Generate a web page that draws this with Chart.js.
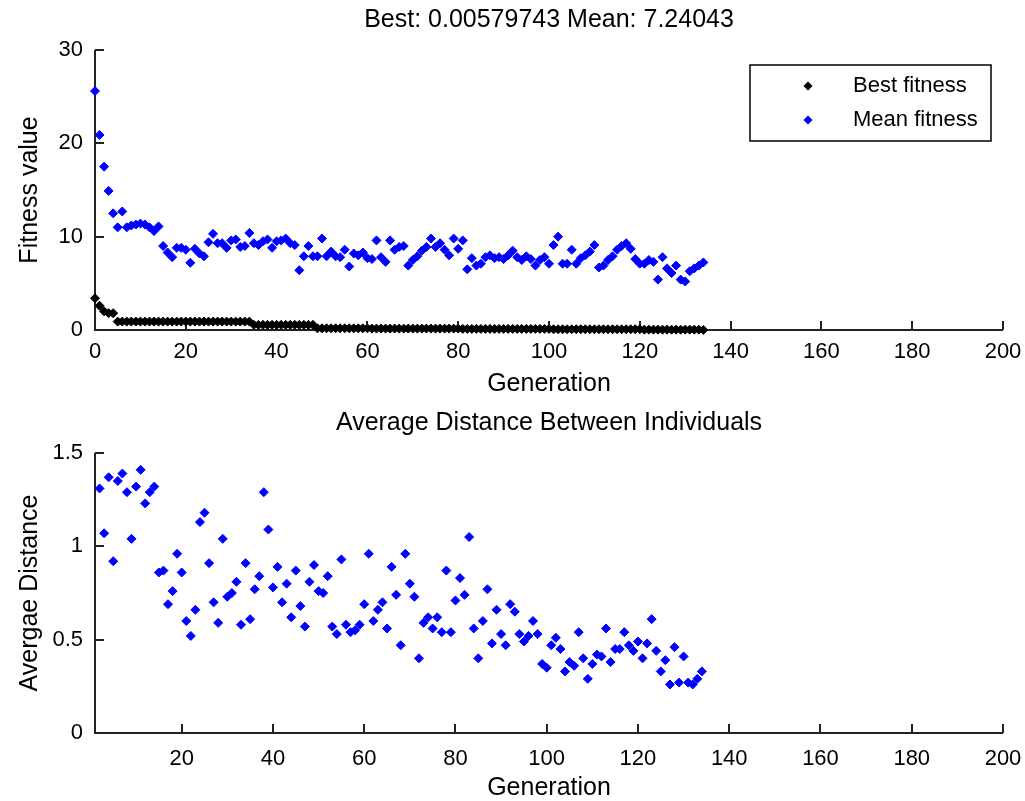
<!DOCTYPE html>
<html>
<head>
<meta charset="utf-8">
<script src="https://cdn.jsdelivr.net/npm/chart.js@4.4.1/dist/chart.umd.min.js"></script>
<style>
body { margin: 0; background: #fff; }
#wrap { position: relative; width: 1025px; height: 801px; }
canvas { position: absolute; left: 0; }
#c1 { top: 0; }
#c2 { top: 400px; }
</style>
</head>
<body>
<div id="wrap">
<canvas id="c1" width="1025" height="400"></canvas>
<canvas id="c2" width="1025" height="401"></canvas>
</div>
<script>
// fitness per generation, generation 0..134
const bestFitness = [
  3.4, 2.6, 2.0, 1.8, 1.8, 0.9, 0.9, 0.9, 0.9, 0.9,
  0.9, 0.9, 0.9, 0.9, 0.9, 0.9, 0.9, 0.9, 0.9, 0.9,
  0.9, 0.9, 0.9, 0.9, 0.9, 0.9, 0.9, 0.9, 0.9, 0.9,
  0.9, 0.9, 0.9, 0.9, 0.9, 0.55, 0.55, 0.55, 0.55, 0.55,
  0.55, 0.55, 0.55, 0.55, 0.55, 0.55, 0.55, 0.55, 0.55, 0.18,
  0.18, 0.18, 0.18, 0.18, 0.18, 0.18, 0.18, 0.18, 0.18, 0.18,
  0.18, 0.15, 0.15, 0.15, 0.15, 0.15, 0.15, 0.15, 0.15, 0.15,
  0.15, 0.15, 0.15, 0.15, 0.15, 0.15, 0.15, 0.15, 0.15, 0.15,
  0.15, 0.12, 0.12, 0.12, 0.12, 0.12, 0.12, 0.12, 0.12, 0.12,
  0.12, 0.12, 0.12, 0.12, 0.12, 0.12, 0.12, 0.12, 0.12, 0.12,
  0.12, 0.08, 0.08, 0.08, 0.08, 0.08, 0.08, 0.08, 0.08, 0.08,
  0.08, 0.08, 0.08, 0.08, 0.08, 0.08, 0.08, 0.08, 0.08, 0.08,
  0.08, 0.04, 0.04, 0.04, 0.04, 0.04, 0.04, 0.04, 0.04, 0.04,
  0.04, 0.04, 0.04, 0.04, 0.00579743
]
const meanFitness = [
  25.6, 20.9, 17.5, 14.9, 12.5, 11.0, 12.7, 11.0, 11.2, 11.3,
  11.4, 11.3, 11.0, 10.6, 11.1, 9.0, 8.3, 7.8, 8.8, 8.8,
  8.6, 7.2, 8.7, 8.2, 7.9, 9.4, 10.3, 9.3, 9.3, 8.8,
  9.6, 9.7, 8.9, 9.0, 10.4, 9.3, 9.1, 9.5, 9.7, 8.8,
  9.5, 9.6, 9.8, 9.3, 9.1, 6.4, 7.9, 9.0, 7.9, 7.9,
  9.8, 7.9, 8.4, 7.9, 7.8, 8.6, 6.8, 8.2, 8.0, 8.3,
  7.7, 7.6, 9.6, 7.8, 7.3, 9.6, 8.6, 8.9, 9.0, 6.9,
  7.5, 7.9, 8.5, 8.9, 9.8, 8.9, 9.3, 8.6, 8.0, 9.8,
  8.7, 9.6, 6.5, 7.7, 6.9, 7.1, 7.8, 8.0, 7.7, 7.8,
  7.6, 8.0, 8.5, 7.8, 7.5, 7.9, 7.6, 6.9, 7.5, 7.8,
  7.1, 9.1, 10.0, 7.1, 7.1, 8.6, 7.1, 7.7, 8.0, 8.4,
  9.1, 6.7, 6.9, 7.5, 7.9, 8.6, 9.0, 9.3, 8.7, 7.6,
  7.1, 7.1, 7.5, 7.3, 5.4, 7.8, 6.6, 6.1, 6.9, 5.4,
  5.2, 6.3, 6.6, 6.9, 7.24043
]
// average distance, generation 2..134
const distStart = 2
const avgDistance = [
  1.31, 1.07, 1.37, 0.92, 1.35, 1.39, 1.29, 1.04, 1.32, 1.41,
  1.23, 1.29, 1.32, 0.86, 0.87, 0.69, 0.76, 0.96, 0.86, 0.60,
  0.52, 0.66, 1.13, 1.18, 0.91, 0.70, 0.59, 1.04, 0.73, 0.75,
  0.81, 0.58, 0.91, 0.61, 0.77, 0.84, 1.29, 1.09, 0.78, 0.89,
  0.70, 0.80, 0.62, 0.87, 0.68, 0.57, 0.81, 0.90, 0.76, 0.75,
  0.84, 0.57, 0.53, 0.93, 0.58, 0.54, 0.55, 0.58, 0.69, 0.96,
  0.60, 0.66, 0.70, 0.56, 0.89, 0.74, 0.47, 0.96, 0.80, 0.73,
  0.40, 0.59, 0.62, 0.56, 0.62, 0.54, 0.87, 0.54, 0.71, 0.83,
  0.74, 1.05, 0.56, 0.40, 0.60, 0.77, 0.48, 0.66, 0.53, 0.47,
  0.69, 0.65, 0.53, 0.49, 0.52, 0.60, 0.53, 0.37, 0.35, 0.47,
  0.51, 0.45, 0.33, 0.38, 0.36, 0.54, 0.40, 0.29, 0.37, 0.42,
  0.41, 0.56, 0.38, 0.45, 0.45, 0.54, 0.47, 0.44, 0.49, 0.40,
  0.48, 0.61, 0.44, 0.33, 0.39, 0.26, 0.46, 0.27, 0.41, 0.27,
  0.26, 0.29, 0.33
]

const topXTicks = [0, 20, 40, 60, 80, 100, 120, 140, 160, 180, 200]
const bottomXTicks = [20, 40, 60, 80, 100, 120, 140, 160, 180, 200]
const topYTicks = [0, 10, 20, 30]
const bottomYTicks = [0, 0.5, 1, 1.5]

const FONT = 'Liberation Sans, Arial, sans-serif'
Chart.defaults.font.family = FONT
Chart.defaults.font.size = 22
Chart.defaults.color = '#000'

// matlab style axes: left + bottom line, ticks pointing in
const matlabAxes = {
  id: 'matlabAxes',
  beforeDatasetsDraw(chart) {
    const ctx = chart.ctx
    const a = chart.chartArea
    const sx = chart.scales.x, sy = chart.scales.y
    ctx.save()
    ctx.strokeStyle = '#222'
    ctx.lineWidth = 2
    ctx.beginPath()
    ctx.moveTo(a.left, a.top)
    ctx.lineTo(a.left, a.bottom)
    ctx.lineTo(a.right, a.bottom)
    sx.ticks.forEach(t => {
      let px = Math.round(sx.getPixelForValue(t.value))
      ctx.moveTo(px, a.bottom)
      ctx.lineTo(px, a.bottom - 9)
    })
    sy.ticks.forEach(t => {
      let py = Math.round(sy.getPixelForValue(t.value))
      ctx.moveTo(a.left, py)
      ctx.lineTo(a.left + 9, py)
    })
    ctx.stroke()
    ctx.restore()
  }
}

const headText = {
  id: 'headText',
  afterDraw(chart, args, opts) {
    const ctx = chart.ctx
    const a = chart.chartArea
    ctx.save()
    ctx.font = '25px ' + FONT
    ctx.fillStyle = '#000'
    ctx.textAlign = 'center'
    ctx.textBaseline = 'middle'
    ctx.fillText(opts.text, (a.left + a.right) / 2, opts.y)
    ctx.restore()
  }
}

const boxLegend = {
  id: 'boxLegend',
  afterDraw(chart, args, opts) {
    if (!opts.show) return
    const ctx = chart.ctx
    ctx.save()
    ctx.fillStyle = '#fff'
    ctx.fillRect(750, 65, 241, 76)
    ctx.strokeStyle = '#000'
    ctx.lineWidth = 1.5
    ctx.strokeRect(750, 65, 241, 76)
    chart.data.datasets.forEach((ds, i) => {
      let cy = 86 + i * 34
      ctx.fillStyle = ds.backgroundColor
      ctx.strokeStyle = ds.borderColor
      Chart.helpers.drawPoint(ctx, {pointStyle: 'rectRot', radius: 3.5, borderWidth: 1, rotation: 0}, 808, cy)
      ctx.fillStyle = '#000'
      ctx.font = '22px ' + FONT
      ctx.textBaseline = 'middle'
      ctx.textAlign = 'left'
      ctx.fillText(ds.label, 853, cy)
    })
    ctx.restore()
  }
}

function makeOptions(xMin, xTicks, yMax, yTicks, yTitle, head, headY, legend, chartTop, xHeight, labelPad, titlePad) {
  return {
    responsive: false,
    animation: false,
    devicePixelRatio: 1,
    layout: { padding: { top: chartTop, right: 22, left: 0, bottom: 0 } },
    plugins: {
      legend: { display: false },
      tooltip: { enabled: false },
      headText: { text: head, y: headY },
      boxLegend: { show: legend }
    },
    scales: {
      x: {
        type: 'linear', min: xMin, max: 200,
        afterBuildTicks: s => { s.ticks = xTicks.map(v => ({ value: v })) },
        afterFit: s => { s.height = xHeight; s.paddingLeft = 0; s.paddingRight = 0 },
        grid: { display: false, drawTicks: false },
        border: { display: false },
        ticks: { padding: labelPad, maxRotation: 0, autoSkip: false, callback: v => String(v) },
        title: { display: true, text: 'Generation', font: { size: 25, lineHeight: 1 }, padding: { top: 0, bottom: titlePad } }
      },
      y: {
        min: 0, max: yMax,
        afterBuildTicks: s => { s.ticks = yTicks.map(v => ({ value: v })) },
        afterFit: s => { s.width = 95; s.paddingTop = 0; s.paddingBottom = 0 },
        grid: { display: false, drawTicks: false },
        border: { display: false },
        ticks: { padding: 12, callback: v => String(v) },
        title: { display: true, text: yTitle, font: { size: 25, lineHeight: 1 }, padding: { top: 18, bottom: 0 } }
      }
    }
  }
}

const bestLast = bestFitness[bestFitness.length - 1]
const meanLast = meanFitness[meanFitness.length - 1]

new Chart(document.getElementById('c1'), {
  type: 'scatter',
  data: {
    datasets: [{
      label: 'Best fitness',
      data: bestFitness.map((v, i) => ({ x: i, y: v })),
      backgroundColor: '#000',
      borderColor: '#000',
      pointStyle: 'rectRot',
      pointRadius: 4.5,
      borderWidth: 1,
      clip: false
    }, {
      label: 'Mean fitness',
      data: meanFitness.map((v, i) => ({ x: i, y: v })),
      backgroundColor: '#0000ff',
      borderColor: '#0000ff',
      pointStyle: 'rectRot',
      pointRadius: 4.5,
      borderWidth: 1,
      clip: false
    }]
  },
  options: makeOptions(0, topXTicks, 30, topYTicks, 'Fitness value',
    'Best: ' + bestLast + ' Mean: ' + meanLast, 20, true, 50, 70, 9, 3),
  plugins: [matlabAxes, headText, boxLegend]
})

new Chart(document.getElementById('c2'), {
  type: 'scatter',
  data: {
    datasets: [{
      label: 'Average distance',
      data: avgDistance.map((v, i) => ({ x: i + distStart, y: v })),
      backgroundColor: '#0000ff',
      borderColor: '#0000ff',
      pointStyle: 'rectRot',
      pointRadius: 4.5,
      borderWidth: 1,
      clip: false
    }]
  },
  options: makeOptions(1, bottomXTicks, 1.5, bottomYTicks, 'Avergae Distance',
    'Average Distance Between Individuals', 23, false, 53, 68, 13, 0),
  plugins: [matlabAxes, headText, boxLegend]
})
</script>
</body>
</html>
